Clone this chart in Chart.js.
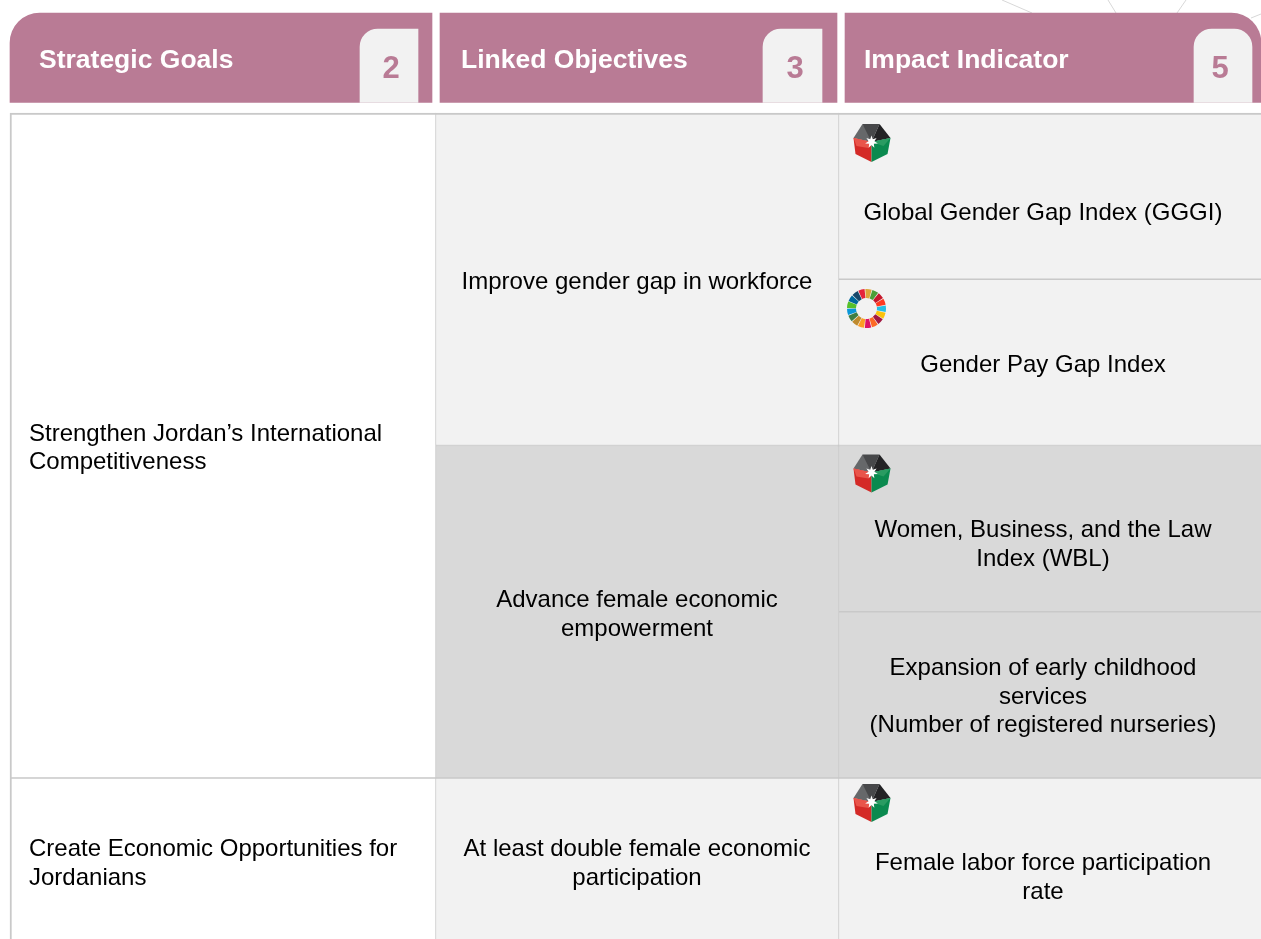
<!DOCTYPE html>
<html lang="en">
<head>
<meta charset="UTF-8">
<title>Strategic Goals, Linked Objectives and Impact Indicators</title>
<script src="https://cdn.jsdelivr.net/npm/chart.js"></script>
<style>
    html, body { margin: 0; padding: 0; background: #fff; overflow: hidden; }
    canvas { display: block; }
</style>
</head>
<body>
<canvas id="tableChart" width="1261" height="939"></canvas>
<script>
// Table content
const headers = ['Strategic Goals', 'Linked Objectives', 'Impact Indicator'];
const headerCounts = [2, 3, 5];

const goals = [
    ['Strengthen Jordan’s International', 'Competitiveness'],
    ['Create Economic Opportunities for', 'Jordanians']
];
const goalSpans = [4, 1];

const objectives = [
    ['Improve gender gap in workforce'],
    ['Advance female economic', 'empowerment'],
    ['At least double female economic', 'participation']
];
const objectiveSpans = [2, 2, 1];

const indicators = [
    ['Global Gender Gap Index (GGGI)'],
    ['Gender Pay Gap Index'],
    ['Women, Business, and the Law', 'Index (WBL)'],
    ['Expansion of early childhood', 'services', '(Number of registered nurseries)'],
    ['Female labor force participation', 'rate']
];
const indicatorSpans = [1, 1, 1, 1, 1];
const indicatorIcons = ['jordan', 'sdg', 'jordan', null, 'jordan'];

// Layout, in canvas pixels
const W = 1261, H = 939;
const tableTop = 113, rowHeight = 166.25;
const columns = [[10, 436], [435, 839], [838, 1262]];
const tabs = [[10, 432], [440, 837], [845, 1261]];
const tabTop = 13, tabBottom = 102.5, cardTop = 29;
const cards = [[360, 418], [763, 822], [1194, 1252]];
const headerTextX = [39, 461, 864];
const headerTextY = 61;
const countTextX = [391, 795, 1220];
const countTextY = 69;
const goalTextX = 29, objectiveTextX = 637, indicatorTextX = 1043;
const indicatorTextShift = [17, 3, 16.5, 2, 17];
const iconCenters = [[871.5, 143], [866.5, 308.5], [871.5, 473.5], null, [871.5, 803]];

const PINK = '#b97b95', LIGHT = '#f2f2f2', MID = '#d9d9d9', LINE = '#c9c9c9';

const toRow = px => (px - tableTop) / rowHeight;

function spanBars(spans, col) {
    let at = 0;
    const x = (col[0] + col[1]) / 2;
    return spans.map(s => {
        const bar = { x: x, y: [at, at + s] };
        at += s;
        return bar;
    });
}

function cellDataset(spans, col, fills, labels, align, textX, isFirstColumn) {
    return {
        data: spanBars(spans, col),
        barThickness: col[1] - col[0],
        backgroundColor: fills,
        borderColor: LINE,
        borderWidth: c => ({ top: c.dataIndex === 0 ? 2 : 1, left: isFirstColumn ? 2 : 1, right: 1, bottom: 1 }),
        labels: labels,
        align: align,
        textX: textX,
        order: 2
    };
}

const datasets = [
    cellDataset(goalSpans, columns[0], ['#ffffff', '#ffffff'], goals, 'left', goalTextX, true),
    cellDataset(objectiveSpans, columns[1], [LIGHT, MID, LIGHT], objectives, 'center', objectiveTextX, false),
    cellDataset(indicatorSpans, columns[2], [LIGHT, LIGHT, MID, MID, LIGHT], indicators, 'center', indicatorTextX, false)
];

// Header tabs and their count cards, the cards sit on top of the tabs
tabs.forEach((t, i) => {
    datasets.push({
        data: [{ x: (t[0] + t[1]) / 2, y: [toRow(tabTop), toRow(tabBottom)] }],
        barThickness: t[1] - t[0],
        backgroundColor: PINK,
        borderWidth: 0,
        order: 1,
        borderRadius: {
            topLeft: i === 0 ? 30 : 0,
            topRight: i === 2 ? 30 : 0,
            bottomLeft: 0,
            bottomRight: 0
        }
    });
});
cards.forEach((c, i) => {
    datasets.push({
        data: [{ x: (c[0] + c[1]) / 2, y: [toRow(cardTop), toRow(tabBottom)] }],
        barThickness: c[1] - c[0],
        backgroundColor: LIGHT,
        borderWidth: 0,
        order: 0,
        borderRadius: { topLeft: 18, topRight: i === 2 ? 18 : 0, bottomLeft: 0, bottomRight: 0 }
    });
});

// Faint lines behind the header at the top right
const backdropLines = [
    [[1002, 0], [1032, 13]],
    [[1108, 0], [1116, 13]],
    [[1186, 0], [1177, 13]],
    [[1261, 14], [1251, 18]]
];

const backdropPlugin = {
    id: 'backdrop',
    beforeDatasetsDraw(chart) {
        const ctx = chart.ctx;
        ctx.save();
        ctx.strokeStyle = '#d8d8d8';
        ctx.lineWidth = 1;
        backdropLines.forEach(l => {
            ctx.beginPath();
            ctx.moveTo(l[0][0], l[0][1]);
            ctx.lineTo(l[1][0], l[1][1]);
            ctx.stroke();
        });
        ctx.restore();
    }
};

const jordanFacets = [
    ['#66686a', [[0, -1], [-18, -5], [-9, -19], [-1, -10]]],
    ['#47484a', [[0, -1], [-9, -19], [8, -19]]],
    ['#232325', [[0, -1], [8, -19], [19, -5]]],
    ['#d42a27', [[0, -1], [-18, -5], [-16, 11], [0, 19]]],
    ['#e9544a', [[0, -1], [-18, -5], [-15, 3], [-3, 5]]],
    ['#0b8a4f', [[0, -1], [19, -5], [16, 11], [0, 19]]],
    ['#2a9c62', [[0, -1], [19, -5], [12, 3]]]
];

function drawJordanIcon(ctx, cx, cy) {
    jordanFacets.forEach(f => {
        ctx.fillStyle = f[0];
        ctx.beginPath();
        f[1].forEach((p, i) => i ? ctx.lineTo(cx + p[0], cy + p[1]) : ctx.moveTo(cx + p[0], cy + p[1]));
        ctx.closePath();
        ctx.fill();
    });
    // seven pointed star
    ctx.fillStyle = '#fff';
    ctx.beginPath();
    for (let i = 0; i < 14; i++) {
        const r = i % 2 ? 3 : 6.5;
        const a = -Math.PI / 2 + i * Math.PI / 7;
        const px = cx + r * Math.cos(a), py = cy - 1 + r * Math.sin(a);
        i ? ctx.lineTo(px, py) : ctx.moveTo(px, py);
    }
    ctx.closePath();
    ctx.fill();
}

const sdgColors = ['#e5243b', '#dda63a', '#4c9f38', '#c5192d', '#ff3a21', '#26bde2', '#fcc30b', '#a21942',
    '#fd6925', '#dd1367', '#fd9d24', '#bf8b2e', '#3f7e44', '#0a97d9', '#56c02b', '#00689d', '#19486a'];

function drawSdgIcon(ctx, cx, cy) {
    const step = Math.PI * 2 / sdgColors.length;
    const start = -Math.PI / 2 - 0.45;
    sdgColors.forEach((c, i) => {
        ctx.fillStyle = c;
        ctx.beginPath();
        ctx.arc(cx, cy, 19.5, start + i * step + 0.02, start + (i + 1) * step - 0.02);
        ctx.arc(cx, cy, 10.5, start + (i + 1) * step - 0.02, start + i * step + 0.02, true);
        ctx.closePath();
        ctx.fill();
    });
}

function drawLines(ctx, lines, x, cy, lineHeight) {
    const first = cy - (lines.length - 1) * lineHeight / 2;
    lines.forEach((line, i) => ctx.fillText(line, x, first + i * lineHeight));
}

const textPlugin = {
    id: 'cellText',
    afterDatasetsDraw(chart) {
        const ctx = chart.ctx;
        const xs = chart.scales.x, ys = chart.scales.y;
        ctx.save();
        ctx.textBaseline = 'middle';
        ctx.fillStyle = '#000';
        ctx.font = '24px "Liberation Sans", Arial, sans-serif';

        chart.data.datasets.slice(0, 3).forEach((ds, d) => {
            ctx.textAlign = ds.align;
            ds.labels.forEach((lines, i) => {
                const raw = ds.data[i].y;
                const cy = ys.getPixelForValue((raw[0] + raw[1]) / 2) + (d === 2 ? indicatorTextShift[i] : 3);
                drawLines(ctx, lines, xs.getPixelForValue(ds.textX), cy, 28.6);
            });
        });

        ctx.textAlign = 'left';
        ctx.fillStyle = '#fff';
        ctx.font = 'bold 26.5px "Liberation Sans", Arial, sans-serif';
        headers.forEach((h, i) => ctx.fillText(h, headerTextX[i], headerTextY));

        ctx.textAlign = 'center';
        ctx.fillStyle = PINK;
        ctx.font = 'bold 31px "Liberation Sans", Arial, sans-serif';
        headerCounts.forEach((n, i) => ctx.fillText(String(n), countTextX[i], countTextY));

        indicatorIcons.forEach((icon, i) => {
            if (!icon) return;
            const c = iconCenters[i];
            if (icon === 'jordan') drawJordanIcon(ctx, c[0], c[1]);
            else drawSdgIcon(ctx, c[0], c[1]);
        });
        ctx.restore();
    }
};

new Chart(document.getElementById('tableChart').getContext('2d'), {
    type: 'bar',
    data: { datasets: datasets },
    options: {
        responsive: false,
        animation: false,
        events: [],
        layout: { padding: 0 },
        datasets: { bar: { grouped: false, borderSkipped: false } },
        plugins: { legend: { display: false }, tooltip: { enabled: false } },
        scales: {
            x: { type: 'linear', display: false, offset: false, min: 0, max: W },
            y: { type: 'linear', display: false, reverse: true, min: toRow(0), max: toRow(H) }
        }
    },
    plugins: [backdropPlugin, textPlugin]
});
</script>
</body>
</html>
